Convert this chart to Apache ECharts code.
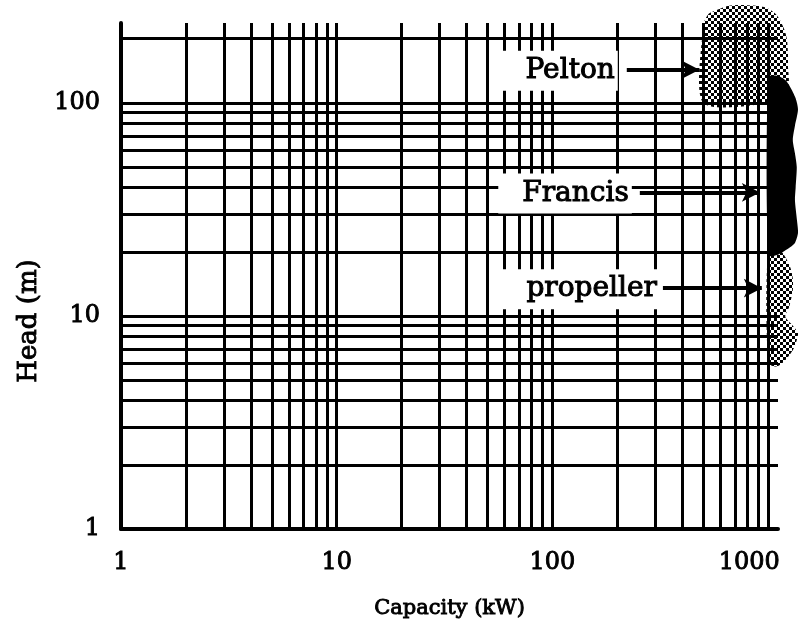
<!DOCTYPE html>
<html>
<head>
<meta charset="utf-8">
<script src="https://cdn.jsdelivr.net/npm/echarts@6/dist/echarts.min.js"></script>
<style>html,body{margin:0;padding:0;background:#fff}#c{width:799px;height:629px}</style>
</head>
<body>
<div id="c"></div>
<script>
// ---- data ----
const xTickLabels = [1, 10, 100, 1000];
const yTickLabels = [1, 10, 100];
const xGridValues = [2,3,4,5,6,7,8,9,10,20,30,40,50,60,70,80,90,100,200,300,400,500,600,700,800,900,1000];
const yGridValues = [2,3,4,5,6,7,8,9,10,20,30,40,50,60,70,80,90,100,200];
const xRange = [1, 1110];
const yRange = [1, 237];
const regionNames = ['Pelton', 'Francis', 'propeller'];
// region outlines as [capacity kW, head m]
const peltonOutline = [[500,100],[500,232],[530,262],[578,273],[650,285],[740,288],[860,286],[986,279],[1080,262],[1133,245],[1190,220],[1222,198],[1235,170],[1235,148],[1235,120],[1000,100]];
const francisOutline = [[1000,132],[1100,134],[1200,128],[1262,119],[1340,105],[1374,93],[1330,78],[1300,67],[1330,58],[1356,50],[1340,40],[1330,35],[1360,28],[1374,24.5],[1330,22],[1262,21],[1100,19.3],[1000,19.3]];
const propellerOutline = [[1000,20],[1150,20],[1262,17],[1300,15],[1300,13.2],[1250,11],[1200,9.9],[1300,9],[1374,8.3],[1340,7.4],[1300,6.9],[1200,6.2],[1100,5.8],[1000,6]];
// label anchors: [capacity at arrow start, head], arrow end capacity
const labelAnchors = [[221,143],[254,38],[325,13.5]];
const arrowEnds = [480, 915, 934];

// ---- drawing ----
const FONT = 'DejaVu Serif';
function makeStipple(){
  const cv = document.createElement('canvas');
  cv.width = 6; cv.height = 6;
  const ctx = cv.getContext('2d');
  ctx.fillStyle = '#000';
  ctx.fillRect(0,0,3,3);
  ctx.fillRect(3,3,3,3);
  return {image: cv, repeat: 'repeat'};
}
const stipple = makeStipple();
const outlines = [peltonOutline, francisOutline, propellerOutline];
const fills = [stipple, '#000', stipple];

const chart = echarts.init(document.getElementById('c'), null, {renderer: 'canvas'});
const gridLineData = xGridValues.map(v => ({xAxis: v})).concat(yGridValues.map(v => ({yAxis: v})));
const arrowData = labelAnchors.map((a, i) => [{coord: [a[0], a[1]]}, {coord: [arrowEnds[i], a[1]]}]);
const labelGap = [9, 8, 3];

chart.setOption({
  animation: false,
  backgroundColor: '#fff',
  grid: {left: 121, right: 21, top: 23, bottom: 100, containLabel: false, outerBoundsMode: 'none'},
  xAxis: {
    type: 'log', logBase: 10, min: xRange[0], max: xRange[1],
    name: 'Capacity (kW)', nameLocation: 'middle', nameGap: 69,
    nameTextStyle: {fontFamily: FONT, fontSize: 21, color: '#000', textBorderColor: '#000', textBorderWidth: 0.9},
    axisLine: {show: true, lineStyle: {color: '#000', width: 4}},
    axisTick: {show: false},
    splitLine: {show: false},
    axisLabel: {
      margin: 22, fontFamily: FONT, fontSize: 24, color: '#000', textBorderColor: '#000', textBorderWidth: 0.9,
      formatter: v => { const r = Math.round(v); if (!xTickLabels.includes(r) || Math.abs(v - r) > 1e-6) return ''; return r === 1000 ? '{r|1000}' : String(r); },
      rich: {r: {fontFamily: FONT, fontSize: 24, color: '#000', textBorderColor: '#000', textBorderWidth: 0.9, padding: [0, 38, 0, 0]}}
    }
  },
  yAxis: {
    type: 'log', logBase: 10, min: yRange[0], max: yRange[1],
    name: 'Head (m)', nameLocation: 'middle', nameGap: 76, nameRotate: 90,
    nameTextStyle: {fontFamily: FONT, fontSize: 26, color: '#000', textBorderColor: '#000', textBorderWidth: 0.9, padding: [0, 90, 0, 0]},
    axisLine: {show: true, lineStyle: {color: '#000', width: 4}},
    axisTick: {show: false},
    splitLine: {show: false},
    axisLabel: {
      margin: 21, fontFamily: FONT, fontSize: 24, color: '#000', textBorderColor: '#000', textBorderWidth: 0.9,
      formatter: v => { const r = Math.round(v); return (yTickLabels.includes(r) && Math.abs(v - r) < 1e-6) ? String(r) : ''; }
    }
  },
  series: [
    {
      type: 'line', data: [], z: 2, silent: true,
      markLine: {
        silent: true, symbol: ['none', 'none'], animation: false,
        label: {show: false},
        lineStyle: {color: '#000', width: 3, type: 'solid', opacity: 1},
        emphasis: {disabled: true},
        data: gridLineData
      }
    },
    {
      type: 'custom', z: 3, silent: true, clip: false,
      data: regionNames.map((n, i) => [outlines[i][0][0], outlines[i][0][1], i]),
      encode: {x: 0, y: 1},
      renderItem: (params, api) => {
        const i = api.value(2);
        const pts = outlines[i].map(p => api.coord(p));
        return {type: 'polygon', shape: {points: pts, smooth: 0.25}, style: {fill: fills[i], stroke: null}};
      }
    },
    {
      type: 'custom', z: 6, silent: true, clip: false,
      data: labelAnchors.map((a, i) => [a[0], a[1], i]),
      encode: {x: 0, y: 1},
      renderItem: (params, api) => {
        const i = api.value(2);
        const p = api.coord([api.value(0), api.value(1)]);
        return {
          type: 'text', x: p[0] - labelGap[i], y: p[1] + 1, z2: 10,
          style: {
            text: regionNames[i], font: '28px "DejaVu Serif"', fill: '#000',
            stroke: '#000', lineWidth: 1,
            align: 'right', verticalAlign: 'middle',
            backgroundColor: '#fff', padding: [6, 3, 6, 24], opacity: 1
          }
        };
      },
      markLine: {
        silent: true, symbol: ['none', 'arrow'], symbolSize: [14, 18], animation: false,
        label: {show: false},
        lineStyle: {color: '#000', width: 4, type: 'solid', opacity: 1},
        emphasis: {disabled: true},
        data: arrowData
      }
    }
  ]
});
</script>
</body>
</html>
